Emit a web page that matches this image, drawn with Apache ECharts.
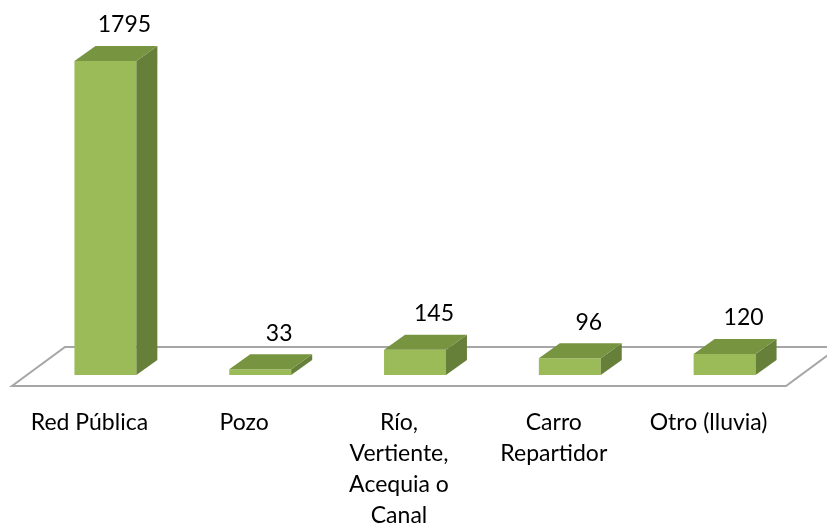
<!DOCTYPE html>
<html><head><meta charset="utf-8">
<script src="https://cdn.jsdelivr.net/npm/echarts@6/dist/echarts.min.js"></script>
<style>html,body{margin:0;padding:0;background:#fff}#c{width:827px;height:531px}</style>
</head><body><div id="c"></div>
<script>
const categories = ['Red Pública', 'Pozo', 'Río,\nVertiente,\nAcequia o\nCanal', 'Carro\nRepartidor', 'Otro (lluvia)'];
const values = [1795, 33, 145, 96, 120];

const FONT = 'Lato';
const DEPTH_X = 21, DEPTH_Y = 15;     // bar depth projection
const BAR_OFF_X = 16, BAR_OFF_Y = 11; // bar position inside floor depth
const FLOOR_DX = 53, FLOOR_DY = 39;

const chart = echarts.init(document.getElementById('c'), null, {renderer: 'canvas'});
chart.setOption({
  animation: false,
  backgroundColor: '#fff',
  grid: {left: 12, right: 41, top: 36, bottom: 144, containLabel: false},
  xAxis: {
    type: 'category', data: categories,
    axisLine: {show: false}, axisTick: {show: false},
    axisLabel: {color: '#000', fontFamily: FONT, fontSize: 23, lineHeight: 31, margin: 21, interval: 0}
  },
  yAxis: {type: 'value', min: 0, max: 2000, show: false, splitLine: {show: false}},
  series: [
    {
      type: 'custom', z: 1, silent: true,
      data: [[0]],
      renderItem(params, api) {
        const cs = params.coordSys;
        const fl = [cs.x, cs.y + cs.height], fr = [cs.x + cs.width, cs.y + cs.height];
        return {
          type: 'polygon',
          shape: {points: [fl, fr, [fr[0] + FLOOR_DX, fr[1] - FLOOR_DY], [fl[0] + FLOOR_DX, fl[1] - FLOOR_DY]]},
          style: {fill: 'none', stroke: '#a6a6a6', lineWidth: 2}
        };
      }
    },
    {
      type: 'custom', z: 2,
      data: values.map((v, i) => [i, v]),
      renderItem(params, api) {
        const i = api.value(0), v = api.value(1);
        const base = api.coord([i, 0]), top = api.coord([i, v]);
        const bw = api.size([1, 0])[0] * 0.4;
        const x0 = base[0] + BAR_OFF_X - bw / 2, x1 = x0 + bw;
        const yb = base[1] - BAR_OFF_Y, yt = top[1] - BAR_OFF_Y;
        return {
          type: 'group',
          children: [
            {type: 'rect', shape: {x: x0, y: yt, width: bw, height: yb - yt}, style: {fill: '#9bbb59'}},
            {type: 'polygon', shape: {points: [[x1, yt], [x1 + DEPTH_X, yt - DEPTH_Y], [x1 + DEPTH_X, yb - DEPTH_Y], [x1, yb]]}, style: {fill: '#66803a'}},
            {type: 'polygon', shape: {points: [[x0, yt], [x0 + DEPTH_X, yt - DEPTH_Y], [x1 + DEPTH_X, yt - DEPTH_Y], [x1, yt]]}, style: {fill: '#779441'}},
            {type: 'text', style: {text: String(v), x: (x0 + x1) / 2 + DEPTH_X - 2, y: yt - DEPTH_Y - 21, align: 'center', verticalAlign: 'middle', fill: '#000', font: '23px ' + FONT}}
          ]
        };
      }
    }
  ]
});
</script></body></html>
